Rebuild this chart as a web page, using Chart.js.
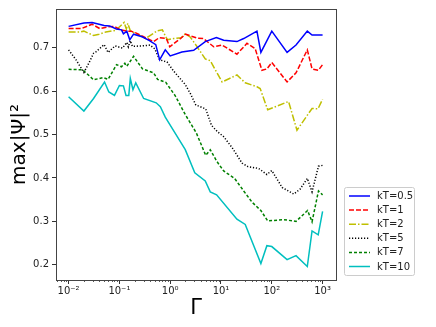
<!DOCTYPE html>
<html>
<head>
<meta charset="utf-8">
<script src="https://cdn.jsdelivr.net/npm/chart.js@4"></script>
<style>
html,body{margin:0;padding:0;background:#fff;}
#c{display:block;}
</style>
</head>
<body>
<canvas id="c" width="436" height="327"></canvas>
<script>
// ---- data ----
const seriesLabels = ['kT=0.5', 'kT=1', 'kT=2', 'kT=5', 'kT=7', 'kT=10'];

const gamma05 = [0.01, 0.02, 0.029, 0.05, 0.064, 0.087, 0.11, 0.12, 0.14, 0.16, 0.19, 0.28, 0.39, 0.52, 0.62, 0.8, 1.0, 1.7, 2.9, 4.9, 8.1, 11.3, 20.6, 28, 51, 61, 100, 200, 300, 500, 620, 1000];
const psi05   = [0.749, 0.757, 0.758, 0.751, 0.750, 0.743, 0.741, 0.732, 0.738, 0.718, 0.731, 0.725, 0.716, 0.707, 0.672, 0.695, 0.681, 0.690, 0.694, 0.714, 0.723, 0.717, 0.714, 0.721, 0.738, 0.689, 0.738, 0.689, 0.706, 0.738, 0.729, 0.729];

const gamma1 = [0.01, 0.018, 0.029, 0.041, 0.06, 0.08, 0.105, 0.14, 0.17, 0.21, 0.3, 0.47, 0.61, 0.84, 0.98, 1.6, 2.0, 3.4, 4.5, 7.2, 10.5, 20.6, 32.5, 47, 64, 80, 100, 200, 300, 500, 620, 830, 1000];
const psi1   = [0.744, 0.744, 0.754, 0.744, 0.748, 0.749, 0.741, 0.738, 0.738, 0.734, 0.725, 0.714, 0.723, 0.721, 0.702, 0.721, 0.731, 0.722, 0.721, 0.702, 0.706, 0.685, 0.710, 0.698, 0.648, 0.651, 0.666, 0.621, 0.642, 0.695, 0.651, 0.648, 0.661];

const gamma2 = [0.01, 0.017, 0.02, 0.031, 0.04, 0.054, 0.085, 0.124, 0.137, 0.146, 0.164, 0.33, 0.56, 0.7, 0.88, 1.17, 1.65, 2.0, 2.5, 3.3, 4.9, 6.15, 10.5, 20.6, 30, 51, 59, 83, 214, 313, 620, 810, 1000];
const psi2   = [0.736, 0.736, 0.738, 0.728, 0.731, 0.736, 0.740, 0.758, 0.743, 0.756, 0.739, 0.721, 0.739, 0.741, 0.718, 0.721, 0.723, 0.732, 0.724, 0.704, 0.674, 0.670, 0.621, 0.637, 0.619, 0.610, 0.606, 0.557, 0.576, 0.510, 0.560, 0.559, 0.581];

const gamma5 = [0.01, 0.014, 0.02, 0.024, 0.031, 0.035, 0.05, 0.06, 0.082, 0.115, 0.14, 0.15, 0.164, 0.18, 0.28, 0.4, 0.5, 0.62, 0.865, 1.17, 1.98, 2.5, 3.2, 5.0, 6.5, 8.6, 11.3, 16.5, 26, 34, 55, 80, 100, 160, 270, 360, 500, 620, 830, 1000];
const psi5   = [0.695, 0.672, 0.643, 0.660, 0.687, 0.691, 0.707, 0.689, 0.704, 0.699, 0.712, 0.702, 0.716, 0.703, 0.704, 0.706, 0.697, 0.672, 0.667, 0.646, 0.615, 0.594, 0.568, 0.559, 0.521, 0.506, 0.495, 0.470, 0.434, 0.426, 0.422, 0.408, 0.417, 0.378, 0.363, 0.374, 0.399, 0.368, 0.427, 0.429];

const gamma7 = [0.01, 0.019, 0.022, 0.031, 0.048, 0.06, 0.088, 0.11, 0.128, 0.14, 0.19, 0.285, 0.47, 0.565, 0.82, 1.26, 2.0, 3.26, 5.0, 6.15, 8.3, 11.3, 18.5, 28, 41, 61, 83, 171, 300, 507, 620, 830, 1000];
const psi7   = [0.650, 0.649, 0.642, 0.626, 0.631, 0.627, 0.661, 0.656, 0.664, 0.657, 0.680, 0.651, 0.642, 0.627, 0.620, 0.589, 0.545, 0.504, 0.452, 0.465, 0.438, 0.416, 0.399, 0.370, 0.344, 0.325, 0.301, 0.304, 0.300, 0.325, 0.299, 0.370, 0.361];

const gamma10 = [0.01, 0.02, 0.031, 0.051, 0.062, 0.08, 0.1, 0.12, 0.135, 0.153, 0.164, 0.185, 0.21, 0.3, 0.53, 0.64, 0.8, 1.98, 3.05, 4.9, 6.15, 8.2, 20.6, 30, 61, 80, 100, 200, 300, 500, 620, 820, 1000];
const psi10   = [0.587, 0.554, 0.583, 0.621, 0.598, 0.590, 0.613, 0.612, 0.590, 0.590, 0.629, 0.603, 0.619, 0.583, 0.573, 0.564, 0.540, 0.465, 0.412, 0.393, 0.368, 0.361, 0.305, 0.293, 0.203, 0.244, 0.242, 0.212, 0.221, 0.196, 0.278, 0.269, 0.323];

const xTickValues = [0.01, 0.1, 1, 10, 100, 1000];
const xTickLabels = ['10\u207B\u00B2', '10\u207B\u00B9', '10\u2070', '10\u00B9', '10\u00B2', '10\u00B3'];
const yTickValues = [0.2, 0.3, 0.4, 0.5, 0.6, 0.7];
const yTickLabels = ['0.2', '0.3', '0.4', '0.5', '0.6', '0.7'];

// ---- styling ----
const FONT = 'DejaVu Sans';
const styles = [
  {color: '#0000ff', dash: []},
  {color: '#ff0000', dash: [5, 2]},
  {color: '#bfbf00', dash: [7, 2, 1.5, 2]},
  {color: '#000000', dash: [1.2, 1.8]},
  {color: '#008000', dash: [3, 2]},
  {color: '#00bfbf', dash: []}
];
const gammas = [gamma05, gamma1, gamma2, gamma5, gamma7, gamma10];
const psis = [psi05, psi1, psi2, psi5, psi7, psi10];

const datasets = seriesLabels.map((lab, k) => ({
  label: lab,
  data: gammas[k].map((g, i) => ({x: g, y: psis[k][i]})),
  borderColor: styles[k].color,
  backgroundColor: styles[k].color,
  borderDash: styles[k].dash,
  borderWidth: 1.5,
  pointRadius: 0,
  tension: 0,
  fill: false
}));

const framePlugin = {
  id: 'frame',
  afterDraw(chart) {
    const ctx = chart.ctx;
    const a = chart.chartArea;
    const xs = chart.scales.x;
    ctx.save();
    // minor ticks on log axis
    ctx.strokeStyle = '#333';
    ctx.lineWidth = 0.8;
    for (let e = -3; e <= 3; e++) {
      for (let m = 2; m <= 9; m++) {
        const v = m * Math.pow(10, e);
        if (v < xs.min || v > xs.max) continue;
        const px = Math.round(xs.getPixelForValue(v)) + 0.5;
        ctx.beginPath();
        ctx.moveTo(px, a.bottom);
        ctx.lineTo(px, a.bottom + 2);
        ctx.stroke();
      }
    }
    // frame
    ctx.strokeStyle = '#444';
    ctx.lineWidth = 1;
    ctx.strokeRect(Math.round(a.left) + 0.5, Math.round(a.top) + 0.5, Math.round(a.right - a.left), Math.round(a.bottom - a.top));
    // legend
    const bx = 344.5, by = 187.5, bw = 70, bh = 88;
    ctx.fillStyle = 'rgba(255,255,255,0.9)';
    ctx.strokeStyle = '#cccccc';
    ctx.lineWidth = 1;
    ctx.beginPath();
    if (ctx.roundRect) ctx.roundRect(bx, by, bw, bh, 2); else ctx.rect(bx, by, bw, bh);
    ctx.fill();
    ctx.stroke();
    ctx.font = '10px "' + FONT + '"';
    ctx.textBaseline = 'middle';
    ctx.textAlign = 'left';
    chart.data.datasets.forEach((ds, i) => {
      const y = 196 + i * 14.1;
      ctx.strokeStyle = ds.borderColor;
      ctx.lineWidth = 1.5;
      ctx.setLineDash(ds.borderDash || []);
      ctx.beginPath();
      ctx.moveTo(349, y);
      ctx.lineTo(370, y);
      ctx.stroke();
      ctx.setLineDash([]);
      ctx.fillStyle = '#222';
      ctx.fillText(ds.label, 377, y + 0.5);
    });
    ctx.restore();
  }
};

new Chart(document.getElementById('c'), {
  type: 'line',
  data: {datasets},
  plugins: [framePlugin],
  options: {
    responsive: false,
    animation: false,
    devicePixelRatio: 1,
    layout: {padding: {left: 0, top: 5, right: 100, bottom: 0}},
    plugins: {legend: {display: false}, tooltip: {enabled: false}},
    scales: {
      x: {
        type: 'logarithmic',
        min: Math.pow(10, -2.248),
        max: Math.pow(10, 3.264),
        afterBuildTicks: s => { s.ticks = xTickValues.map(v => ({value: v})); },
        afterFit: s => { s.height = 47; },
        ticks: {
          callback: (v, i) => xTickLabels[i],
          font: {family: FONT, size: 10},
          color: '#222',
          maxRotation: 0,
          autoSkip: false,
          padding: 1
        },
        grid: {display: true, drawOnChartArea: false, drawTicks: true, tickLength: 4, tickColor: '#333', tickWidth: 1},
        border: {display: true, color: '#444'},
        title: {display: true, text: 'Γ', font: {family: FONT, size: 21}, color: '#000', padding: {top: 0, bottom: 6}}
      },
      y: {
        type: 'linear',
        min: 0.165,
        max: 0.789,
        afterBuildTicks: s => { s.ticks = yTickValues.map(v => ({value: v})); },
        afterFit: s => { s.width = 56; },
        ticks: {
          callback: (v, i) => yTickLabels[i],
          font: {family: FONT, size: 10},
          color: '#222',
          padding: 3
        },
        grid: {display: true, drawOnChartArea: false, drawTicks: true, tickLength: 4, tickColor: '#333', tickWidth: 1},
        border: {display: true, color: '#444'},
        title: {display: true, text: 'max|Ψ|²', font: {family: FONT, size: 20}, color: '#000', padding: {top: 8, bottom: 0}}
      }
    }
  }
});
</script>
</body>
</html>
